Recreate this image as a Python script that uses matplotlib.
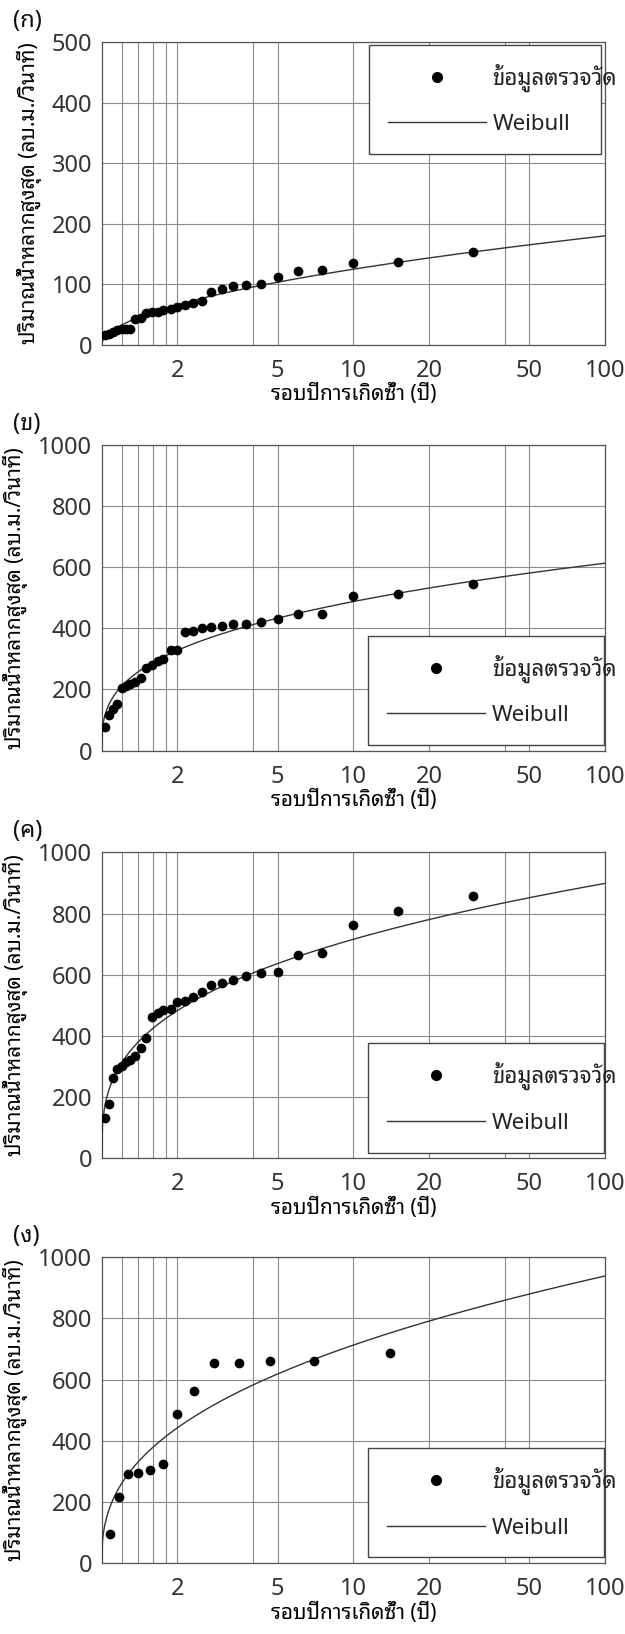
import numpy as np
import matplotlib
matplotlib.use("Agg")
import matplotlib.pyplot as plt
from matplotlib import font_manager
from matplotlib.lines import Line2D

t_a = [30.0, 15.0, 10.0, 7.5, 6.0, 5.0, 4.29, 3.75, 3.33, 3.0, 2.73, 2.5, 2.31, 2.14, 2.0,
       1.88, 1.76, 1.67, 1.58, 1.5, 1.43, 1.36, 1.30, 1.25, 1.2, 1.15, 1.11, 1.07, 1.03]
q_a = [154, 137, 135, 124, 122, 112, 101, 99.5, 98, 92, 88, 72.5, 70, 66, 63,
       59, 57, 55, 54, 52, 44.5, 42, 26, 26, 25.5, 24.5, 22, 18, 16.5]

t_b = t_a
q_b = [545, 512, 505, 447, 447, 429, 419, 413, 413, 407, 405, 402, 392, 389, 329,
       329, 298, 294, 280, 269, 237, 225, 218, 212, 206, 151, 135, 117, 76]

t_c = t_a
q_c = [858, 808, 762, 670, 664, 609, 606, 597, 582, 572, 565, 542, 526, 514, 512,
       488, 485, 474, 461, 394, 359, 336, 321, 314, 303, 291, 264, 176, 131]

t_d = [14.0, 7.0, 4.67, 3.5, 2.8, 2.33, 2.0, 1.75, 1.56, 1.4, 1.27, 1.17, 1.08]
q_d = [686, 662, 662, 653, 653, 564, 487, 325, 305, 294, 292, 215, 96]

# fitted Weibull parameters (scale, shape) estimated from the drawn curves
w_scale = [80.6, 370.0, 544.5, 512.0]
w_shape = [1.90, 3.03, 3.05, 2.52]

panel_names = ["(ก)", "(ข)", "(ค)", "(ง)"]
y_max = [500, 1000, 1000, 1000]
y_step = [100, 200, 200, 200]
legend_top = [True, False, False, False]

x_grid = [1.2, 1.4, 1.6, 1.8, 2, 4, 5, 10, 20, 40, 50, 100]
x_labels = ["", "", "", "", "2", "", "5", "10", "20", "", "50", "100"]

xlabel = "รอบปีการเกิดซ้ำ (ปี)"
ylabel = "ปริมาณน้ำหลากสูงสุด (ลบ.ม./วินาที)"
leg_data = "ข้อมูลตรวจวัด"
leg_fit = "Weibull"


def find_thai():
    try:
        from fontTools.ttLib import TTFont
    except Exception:
        return []
    found = []
    for f in font_manager.fontManager.ttflist:
        try:
            tt = TTFont(f.fname, fontNumber=0, lazy=True)
            cmap = tt.getBestCmap()
            if cmap and 0x0E01 in cmap and 0x0E49 in cmap:
                found.append(f.name)
        except Exception:
            pass
    return found


thai = find_thai()
pref = ["Noto Sans Thai Looped", "Noto Looped Thai", "Noto Sans Thai", "Noto Sans Thai UI"]
fam = None
for p in pref:
    if p in thai:
        fam = p
        break
if fam is None and thai:
    fam = thai[0]
families = ([fam] if fam else []) + ["DejaVu Sans"]
plt.rcParams["font.family"] = families

fig = plt.figure(figsize=(6.25, 16.34), dpi=100)

left, width = 0.1627, 0.8053
bottoms = [0.7889, 0.5406, 0.2911, 0.0433]
heights = [0.1854, 0.1873, 0.1873, 0.1873]

series = [(t_a, q_a), (t_b, q_b), (t_c, q_c), (t_d, q_d)]
t_curve = np.geomspace(1.0, 100.0, 600)

for i, (tt, qq) in enumerate(series):
    ax = fig.add_axes([left, bottoms[i], width, heights[i]])
    ax.set_xscale("log")
    ax.set_xlim(1, 100)
    ax.set_ylim(0, y_max[i])

    q_fit = w_scale[i] * np.log(t_curve) ** (1.0 / w_shape[i])
    ax.plot(t_curve, q_fit, color="#333333", lw=1.0, zorder=3)
    ax.plot(tt, qq, "o", color="black", ms=6, zorder=4)

    ax.set_xticks(x_grid)
    ax.set_xticklabels(x_labels)
    ax.xaxis.set_minor_locator(matplotlib.ticker.NullLocator())
    ax.set_yticks(np.arange(0, y_max[i] + 1, y_step[i]))
    ax.grid(True, color="#8a8a8a", lw=0.8)
    ax.set_axisbelow(True)
    ax.tick_params(length=0, labelsize=17, colors="#333333")
    ax.tick_params(axis="x", pad=10)
    ax.tick_params(axis="y", pad=7)
    for s in ax.spines.values():
        s.set_color("#555555")
        s.set_linewidth(0.9)

    ax.set_xlabel(xlabel, fontsize=15, fontweight="bold", labelpad=1)
    ax.set_ylabel(ylabel, fontsize=15, fontweight="bold", labelpad=7)

    handles = [Line2D([], [], ls="none", marker="o", color="black", ms=7),
               Line2D([], [], color="#333333", lw=1.0)]
    if legend_top[i]:
        loc, box = "upper right", (0.531, 0.646, 0.461, 0.345)
    else:
        loc, box = "lower right", (0.530, 0.019, 0.468, 0.345)
    leg = ax.legend(handles, [leg_data, leg_fit], loc=loc, bbox_to_anchor=box,
                    mode="expand", fontsize=16, handlelength=4.4,
                    handletextpad=0.3, borderpad=0.85, labelspacing=1.0,
                    borderaxespad=0, fancybox=False, framealpha=1,
                    edgecolor="#444444")
    leg.get_frame().set_linewidth(1.0)
    for txt in leg.get_texts():
        txt.set_color("#222222")

    top_px = (1 - bottoms[i] - heights[i]) * 1634
    fig.text(0.021, 1 - (top_px - 21) / 1634, panel_names[i], fontsize=17,
             va="center", ha="left", color="#111111")

fig.savefig("out.png", dpi=100, facecolor="white")
